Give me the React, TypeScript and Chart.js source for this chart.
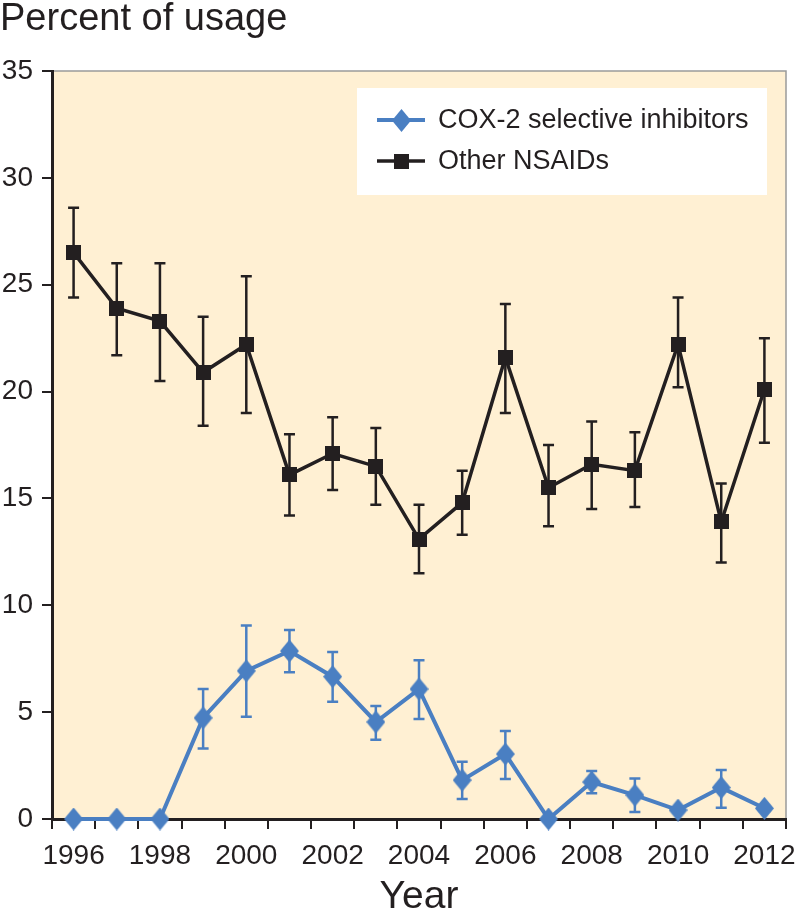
import React, { useEffect, useRef } from "react";
import { Chart, registerables } from "chart.js";

Chart.register(...registerables);

// ---- Data ----
const years = [
  "1996", "1997", "1998", "1999", "2000", "2001", "2002", "2003", "2004",
  "2005", "2006", "2007", "2008", "2009", "2010", "2011", "2012",
];
const shownYearLabels = ["1996", "1998", "2000", "2002", "2004", "2006", "2008", "2010", "2012"];

const cox2Values = [0, 0, 0, 4.73, 6.93, 7.86, 6.66, 4.54, 6.08, 1.82, 3.04, 0, 1.73, 1.12, 0.42, 1.47, 0.5];
const cox2Upper = [null, null, null, 6.08, 9.05, 8.84, 7.81, 5.29, 7.43, 2.68, 4.12, null, 2.25, 1.9, null, 2.29, null];
const cox2Lower = [null, null, null, 3.3, 4.79, 6.87, 5.49, 3.71, 4.68, 0.94, 1.87, null, 1.2, 0.33, null, 0.53, null];

const nsaidValues = [26.5, 23.9, 23.3, 20.9, 22.2, 16.1, 17.1, 16.5, 13.1, 14.8, 21.6, 15.5, 16.6, 16.3, 22.2, 13.9, 20.1];
const nsaidUpper = [28.6, 26.0, 26.0, 23.5, 25.4, 18.0, 18.8, 18.3, 14.7, 16.3, 24.1, 17.5, 18.6, 18.1, 24.4, 15.7, 22.5];
const nsaidLower = [24.4, 21.7, 20.5, 18.4, 19.0, 14.2, 15.4, 14.7, 11.5, 13.3, 19.0, 13.7, 14.5, 14.6, 20.2, 12.0, 17.6];

const seriesLabels = ["COX-2 selective inhibitors", "Other NSAIDs"];
const yMin = 0;
const yMax = 35;
const yStep = 5;

// ---- Styles ----
const FONT = "'Liberation Sans', Arial, Helvetica, sans-serif";
const BLUE = "#4a7fc2";
const BLACK = "#231f20";
const BG = "#fff0d3";

function makeDiamond(w: number, h: number, color: string) {
  const c = document.createElement("canvas");
  c.width = w;
  c.height = h;
  const ctx = c.getContext("2d")!;
  ctx.fillStyle = color;
  ctx.beginPath();
  ctx.moveTo(w / 2, 0);
  ctx.lineTo(w, h / 2);
  ctx.lineTo(w / 2, h);
  ctx.lineTo(0, h / 2);
  ctx.closePath();
  ctx.fill();
  return c;
}

function makeSquare(w: number, h: number, color: string) {
  const c = document.createElement("canvas");
  c.width = w;
  c.height = h;
  const ctx = c.getContext("2d")!;
  ctx.fillStyle = color;
  ctx.fillRect(0, 0, w, h);
  return c;
}

export default function App() {
  const canvasRef = useRef<HTMLCanvasElement | null>(null);

  useEffect(() => {
    const canvas = canvasRef.current;
    if (!canvas) return;

    const diamond = makeDiamond(19, 23, BLUE);
    const square = makeSquare(15, 15, BLACK);
    const markers = [diamond, square];
    const errorSets = [
      { upper: cox2Upper, lower: cox2Lower, color: BLUE },
      { upper: nsaidUpper, lower: nsaidLower, color: BLACK },
    ];

    const backgroundPlugin = {
      id: "plotBackground",
      beforeDraw(chart: any) {
        const { ctx, chartArea } = chart;
        const { left, top, right, bottom } = chartArea;
        ctx.save();
        ctx.fillStyle = BG;
        ctx.fillRect(left, top, right - left, bottom - top);
        ctx.strokeStyle = "#9a9a9a";
        ctx.lineWidth = 1.5;
        ctx.beginPath();
        ctx.moveTo(left, top);
        ctx.lineTo(right, top);
        ctx.lineTo(right, bottom);
        ctx.stroke();
        ctx.restore();
      },
    };

    const errorBarPlugin = {
      id: "errorBars",
      beforeDatasetsDraw(chart: any) {
        const { ctx } = chart;
        const xs = chart.scales.x;
        const ys = chart.scales.y;
        errorSets.forEach((es) => {
          ctx.save();
          ctx.strokeStyle = es.color;
          ctx.lineWidth = 2.5;
          es.upper.forEach((u, i) => {
            const l = es.lower[i];
            if (u == null || l == null) return;
            const x = xs.getPixelForValue(i);
            const y1 = ys.getPixelForValue(u);
            const y2 = ys.getPixelForValue(l);
            ctx.beginPath();
            ctx.moveTo(x, y1);
            ctx.lineTo(x, y2);
            ctx.moveTo(x - 5.5, y1);
            ctx.lineTo(x + 5.5, y1);
            ctx.moveTo(x - 5.5, y2);
            ctx.lineTo(x + 5.5, y2);
            ctx.stroke();
          });
          ctx.restore();
        });
      },
    };

    const legendPlugin = {
      id: "boxLegend",
      afterDraw(chart: any) {
        const { ctx, chartArea } = chart;
        const boxLeft = chartArea.left + 305;
        const boxTop = chartArea.top + 17;
        const boxRight = chartArea.right - 19;
        const boxBottom = chartArea.top + 124;
        ctx.save();
        ctx.fillStyle = "#ffffff";
        ctx.fillRect(boxLeft, boxTop, boxRight - boxLeft, boxBottom - boxTop);
        const rows = [chartArea.top + 49, chartArea.top + 90];
        chart.data.datasets.forEach((ds: any, i: number) => {
          const y = rows[i];
          ctx.strokeStyle = ds.borderColor;
          ctx.lineWidth = ds.borderWidth;
          ctx.beginPath();
          ctx.moveTo(boxLeft + 20, y);
          ctx.lineTo(boxLeft + 68, y);
          ctx.stroke();
          const m = markers[i];
          ctx.drawImage(m, Math.round(boxLeft + 44 - m.width / 2), Math.round(y - m.height / 2));
          ctx.fillStyle = BLACK;
          ctx.font = `27px ${FONT}`;
          ctx.textBaseline = "middle";
          ctx.textAlign = "left";
          ctx.fillText(ds.label, boxLeft + 81, y + 1);
        });
        ctx.restore();
      },
    };

    const chart = new Chart(canvas, {
      type: "line",
      data: {
        labels: years,
        datasets: [
          {
            label: seriesLabels[0],
            data: cox2Values,
            borderColor: BLUE,
            backgroundColor: BLUE,
            borderWidth: 4,
            pointStyle: diamond as any,
            pointRadius: 10,
            clip: false as any,
            tension: 0,
          },
          {
            label: seriesLabels[1],
            data: nsaidValues,
            borderColor: BLACK,
            backgroundColor: BLACK,
            borderWidth: 3.5,
            pointStyle: square as any,
            pointRadius: 8,
            clip: false as any,
            tension: 0,
          },
        ],
      },
      options: {
        responsive: false,
        animation: false,
        events: [],
        layout: { padding: { left: 0, right: 8, top: 0, bottom: 0 } },
        plugins: {
          legend: { display: false },
          tooltip: { enabled: false },
          title: {
            display: true,
            text: "Percent of usage",
            align: "start",
            color: BLACK,
            font: { family: FONT, size: 38, weight: "normal", lineHeight: 1 },
            padding: { top: 1, bottom: 32 },
          },
        },
        scales: {
          x: {
            type: "category",
            offset: true,
            grid: {
              display: true,
              offset: true,
              drawOnChartArea: false,
              drawTicks: true,
              tickLength: 10,
              color: BLACK,
              lineWidth: 2,
            },
            border: { display: true, color: BLACK, width: 3 },
            ticks: {
              autoSkip: false,
              maxRotation: 0,
              minRotation: 0,
              color: BLACK,
              padding: 10,
              font: { family: FONT, size: 28 },
              callback: (_v: any, i: number) =>
                shownYearLabels.includes(years[i]) ? years[i] : "",
            },
            title: {
              display: true,
              text: "Year",
              color: BLACK,
              font: { family: FONT, size: 39, lineHeight: 0.9 },
              padding: 0,
            },
            afterFit: (s: any) => {
              s.height = 96;
              s.paddingLeft = 0;
              s.paddingRight = 0;
            },
          },
          y: {
            min: yMin,
            max: yMax,
            grid: {
              display: true,
              drawOnChartArea: false,
              drawTicks: true,
              tickLength: 10,
              color: BLACK,
              lineWidth: 2,
            },
            border: { display: true, color: BLACK, width: 3 },
            ticks: {
              stepSize: yStep,
              color: BLACK,
              padding: 9,
              font: { family: FONT, size: 28 },
            },
            afterFit: (s: any) => {
              s.width = 52;
              s.paddingTop = 0;
              s.paddingBottom = 0;
            },
          },
        },
      },
      plugins: [backgroundPlugin, errorBarPlugin, legendPlugin],
    } as any);

    return () => {
      chart.destroy();
    };
  }, []);

  return (
    <div style={{ position: "absolute", left: 0, top: 0, width: 800, height: 915, background: "#ffffff" }}>
      <canvas ref={canvasRef} width={800} height={915} style={{ display: "block" }} />
    </div>
  );
}
